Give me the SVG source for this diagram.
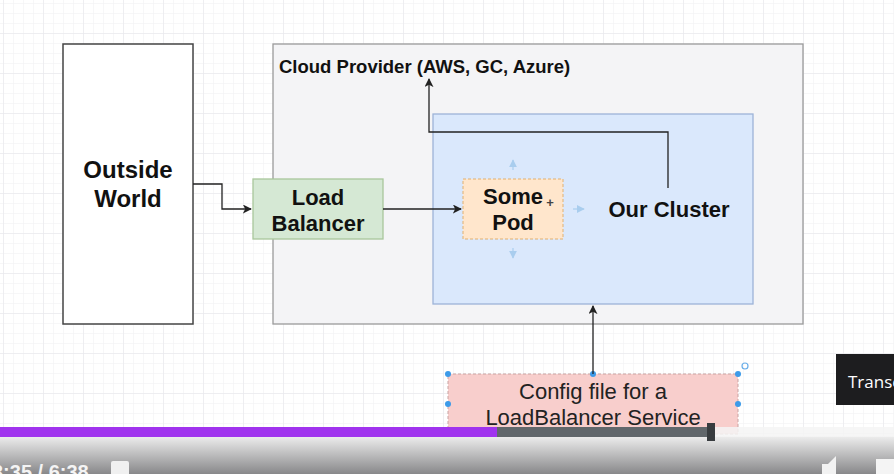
<svg xmlns="http://www.w3.org/2000/svg" width="894" height="474" viewBox="0 0 894 474">
<defs>
<pattern id="minor" width="10" height="10" patternUnits="userSpaceOnUse" x="3" y="3">
<path d="M10 0H0V10" fill="none" stroke="#f0f0f2" stroke-width="1"/>
</pattern>
<pattern id="major" width="40" height="40" patternUnits="userSpaceOnUse" x="3" y="-7">
<path d="M40 0H0V40" fill="none" stroke="#e6e6ea" stroke-width="1"/>
</pattern>
<marker id="arr" viewBox="0 0 10 10" refX="9" refY="5" markerWidth="9" markerHeight="9" markerUnits="userSpaceOnUse" orient="auto">
<path d="M0 0L10 5L0 10L2.5 5Z" fill="#222"/>
</marker>
<marker id="hint" viewBox="0 0 10 10" refX="9" refY="5" markerWidth="8" markerHeight="8" markerUnits="userSpaceOnUse" orient="auto">
<path d="M0 0L10 5L0 10Z" fill="#a9cdee"/>
</marker>
<linearGradient id="shade" x1="0" y1="0" x2="0" y2="1">
<stop offset="0" stop-color="#eeeeee"/>
<stop offset="1" stop-color="#88888a"/>
</linearGradient>
</defs>
<style>
.b{font-family:"Liberation Sans",Arial,sans-serif;font-weight:bold;fill:#111;text-anchor:middle}
.n{font-family:"Liberation Sans",Arial,sans-serif;fill:#222;text-anchor:middle}
.edge{fill:none;stroke:#222;stroke-width:1.3}
.h{fill:#3d9be9}
</style>
<rect width="894" height="474" fill="#ffffff"/>
<rect width="894" height="474" fill="url(#minor)"/>
<rect width="894" height="474" fill="url(#major)"/>

<g id="outside-world">
<rect x="63" y="44" width="130" height="280" fill="#ffffff" stroke="#444" stroke-width="1.5"/>
<text class="b" x="128" y="178" font-size="24">Outside</text>
<text class="b" x="128" y="207" font-size="24">World</text>
</g>

<g id="cloud-provider">
<rect x="273" y="44" width="530" height="280" fill="#f4f4f6" stroke="#9a9a9a" stroke-width="1.3"/>
<text class="b" x="279" y="73" font-size="18.5" style="text-anchor:start">Cloud Provider (AWS, GC, Azure)</text>
</g>

<g id="our-cluster">
<rect x="433" y="114" width="320" height="190" fill="#dae8fc" stroke="#9db3d8" stroke-width="1.3"/>
<text class="b" x="669" y="217" font-size="22">Our Cluster</text>
</g>

<g id="load-balancer">
<rect x="253" y="179" width="130" height="60" fill="#d5e8d4" stroke="#a9c79b" stroke-width="1.3"/>
<text class="b" x="318" y="205" font-size="22">Load</text>
<text class="b" x="318" y="231" font-size="22">Balancer</text>
</g>

<g id="some-pod">
<rect x="463" y="179" width="100" height="60" fill="#ffe6cc" stroke="#e0b070" stroke-width="1" stroke-dasharray="3 2"/>
<text class="b" x="513" y="204" font-size="22">Some</text>
<text class="b" x="513" y="230" font-size="22">Pod</text>
<text x="550" y="207" font-family="Liberation Sans,Arial,sans-serif" font-weight="bold" font-size="13" fill="#444" text-anchor="middle">+</text>
<g stroke="#a9cdee" stroke-width="1.2" fill="none">
<line x1="513" y1="170" x2="513" y2="160" marker-end="url(#hint)"/>
<line x1="513" y1="248" x2="513" y2="258" marker-end="url(#hint)"/>
<line x1="573" y1="209" x2="584" y2="209" marker-end="url(#hint)"/>
</g>
</g>

<g id="config-file">
<rect x="448" y="374" width="290" height="60" fill="#f8cecc" stroke="#c9a3a2" stroke-width="1" stroke-dasharray="3 2"/>
<text class="n" x="593" y="399" font-size="22">Config file for a</text>
<text class="n" x="593" y="425" font-size="22">LoadBalancer Service</text>
<circle class="h" cx="448" cy="374" r="3"/>
<circle class="h" cx="593" cy="374" r="3"/>
<circle class="h" cx="738" cy="374" r="3"/>
<circle class="h" cx="448" cy="404" r="3"/>
<circle class="h" cx="738" cy="404" r="3"/>
<circle cx="745" cy="366" r="3" fill="none" stroke="#6aaee9" stroke-width="1.2"/>
</g>

<g id="connectors">
<path class="edge" d="M193 184H222V209H251" marker-end="url(#arr)"/>
<path class="edge" d="M383 209H461" marker-end="url(#arr)"/>
<path class="edge" d="M668 188V132H429V79" marker-end="url(#arr)"/>
<path class="edge" d="M593 374V306" marker-end="url(#arr)"/>
</g>

<g id="player">
<rect x="0" y="436" width="894" height="38" fill="url(#shade)"/>
<rect x="0" y="427" width="894" height="10" fill="#f4f4f4" opacity="0.85"/>
<rect x="0" y="427" width="497" height="10" fill="#a033ee"/>
<rect x="497" y="427" width="212" height="10" fill="#61676b"/>
<rect x="707" y="423" width="8" height="18" fill="#383c3f"/>
<text x="-8" y="479" font-family="Liberation Sans,Arial,sans-serif" font-weight="bold" font-size="20" fill="#f4f4f4">3:35 / 6:38</text>
<rect x="111" y="461" width="18" height="16" rx="2" fill="#f0f0f0"/>
<path d="M822 474V464H828L836 456V474Z" fill="#f2f2f2"/>
<rect x="876" y="459" width="18" height="16" fill="#f4f4f4"/>
<rect x="836" y="354" width="60" height="51" fill="#1d1d1f"/>
<text x="848" y="388" font-family="'Open Sans','Liberation Sans',sans-serif" font-size="17" fill="#ffffff">Transc</text>
</g>
</svg>
